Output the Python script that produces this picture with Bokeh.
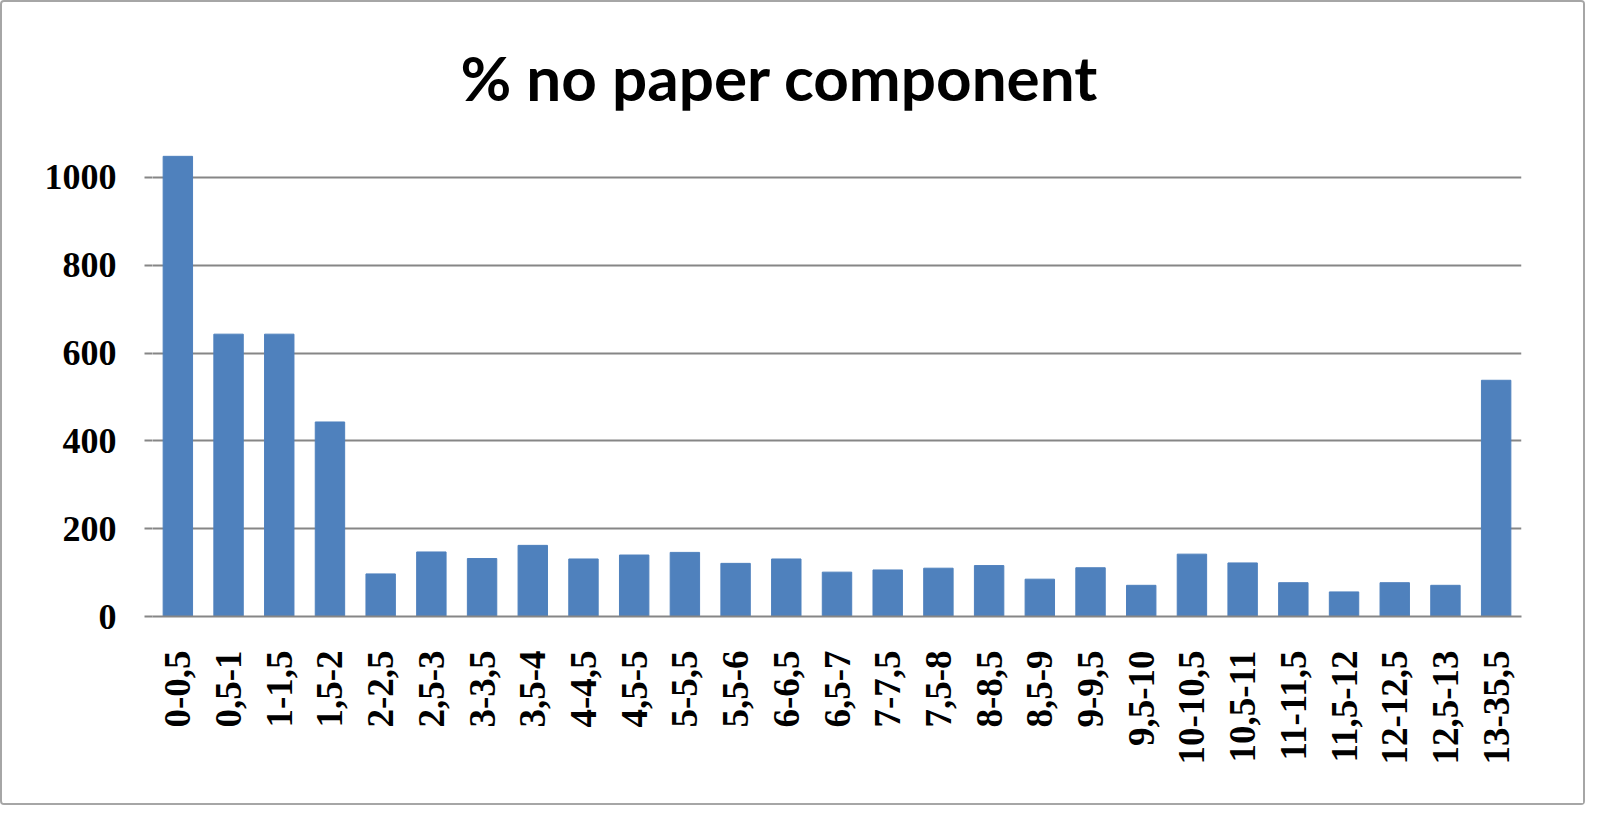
import math
from bokeh.plotting import figure
from bokeh.models import Range1d, FactorRange, FixedTicker
from bokeh.embed import file_html
from bokeh.resources import INLINE

categories = ["0-0,5", "0,5-1", "1-1,5", "1,5-2", "2-2,5", "2,5-3", "3-3,5", "3,5-4",
              "4-4,5", "4,5-5", "5-5,5", "5,5-6", "6-6,5", "6,5-7", "7-7,5", "7,5-8",
              "8-8,5", "8,5-9", "9-9,5", "9,5-10", "10-10,5", "10,5-11", "11-11,5",
              "11,5-12", "12-12,5", "12,5-13", "13-35,5"]
counts = [1048, 643, 643, 443, 97, 147, 132, 162,
          131, 140, 146, 121, 131, 101, 106, 110,
          116, 85, 111, 71, 142, 122, 77,
          56, 77, 71, 538]
y_ticks = [0, 200, 400, 600, 800, 1000]
title_text = "% no paper component"

p = figure(width=1585, height=805, x_range=FactorRange(*categories),
           y_range=Range1d(0, 1100), output_backend="svg", toolbar_location=None,
           title=title_text)
p.min_border_left = 150
p.min_border_right = 66
p.min_border_top = 131
p.min_border_bottom = 191

p.vbar(x=categories, top=counts, width=0.58, color="#4F81BD")

p.title.align = "left"
p.title.text_font = "Lato"
p.title.text_font_style = "bold"
p.title.text_font_size = "62px"
p.title.text_color = "#000000"
p.title.standoff = 40
p.title.offset = 308

p.outline_line_color = None
p.styles = {"border": "2px solid #a6a6a6", "border-radius": "4px"}

p.yaxis.ticker = FixedTicker(ticks=y_ticks)
p.yaxis.axis_line_color = None
p.yaxis.major_tick_out = 8
p.yaxis.major_tick_in = 0
p.yaxis.major_tick_line_color = "#868686"
p.yaxis.major_tick_line_width = 2
p.yaxis.minor_tick_line_color = None
p.yaxis.major_label_standoff = 28
p.yaxis.major_label_text_font = "Liberation Serif"
p.yaxis.major_label_text_font_style = "bold"
p.yaxis.major_label_text_font_size = "36px"
p.yaxis.major_label_text_color = "#000000"

p.xaxis.axis_line_color = "#868686"
p.xaxis.axis_line_width = 2
p.xaxis.major_tick_line_color = None
p.xaxis.minor_tick_line_color = None
p.xaxis.major_label_orientation = math.pi / 2
p.xaxis.major_label_standoff = 28
p.xaxis.major_label_text_font = "Liberation Serif"
p.xaxis.major_label_text_font_style = "bold"
p.xaxis.major_label_text_font_size = "37px"
p.xaxis.major_label_text_color = "#000000"

p.xgrid.grid_line_color = None
p.ygrid.ticker = FixedTicker(ticks=y_ticks)
p.ygrid.grid_line_color = "#868686"
p.ygrid.grid_line_width = 2

p.x_range.range_padding = 0
p.x_range.factor_padding = 0

open("out.html", "w").write(file_html(p, INLINE))
